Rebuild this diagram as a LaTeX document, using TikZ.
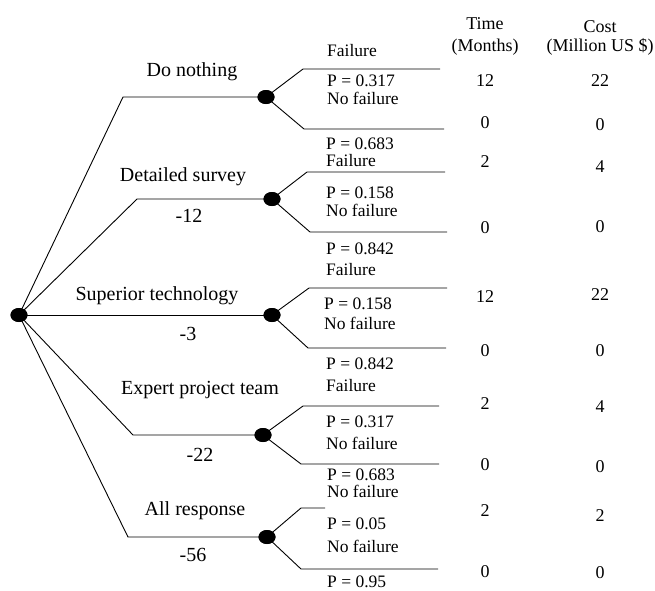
\documentclass[tikz,border=0pt]{standalone}
\usepackage{fontspec}
\setmainfont{Liberation Serif}
\usetikzlibrary{shapes.geometric}
\begin{document}
\begin{tikzpicture}[x=1pt,y=-1pt,
  edge/.style={line width=0.9pt},
  dotnode/.style={ellipse,fill=black,inner sep=0pt,minimum width=17pt,minimum height=14pt},
  biglab/.style={inner sep=0pt,font=\fontsize{20}{22}\selectfont,text height=13pt,text depth=4pt},
  smalllab/.style={inner sep=0pt,anchor=west,font=\fontsize{17.5}{20}\selectfont,text height=10.5pt,text depth=2pt},
  numlab/.style={inner sep=0pt,font=\fontsize{18}{21}\selectfont,text height=12pt,text depth=4pt}]
\useasboundingbox (0,0) rectangle (655,590);

% decision and chance nodes
\node[dotnode] (r) at (19,315) {};
\node[dotnode] (c1) at (266,97) {};
\node[dotnode] (c2) at (272,199) {};
\node[dotnode] (c3) at (272,315) {};
\node[dotnode] (c4) at (263,435) {};
\node[dotnode] (c5) at (267,537) {};

% corner points
\coordinate (a1) at (123,97);
\coordinate (a2) at (137,199);
\coordinate (a4) at (133,435);
\coordinate (a5) at (128,537);

\coordinate (u1) at (303,69);  \coordinate (ue1) at (440,69);
\coordinate (l1) at (304,129); \coordinate (le1) at (444,129);
\coordinate (u2) at (307,172); \coordinate (ue2) at (445,172);
\coordinate (l2) at (310,232); \coordinate (le2) at (447,232);
\coordinate (u3) at (309,288); \coordinate (ue3) at (447,288);
\coordinate (l3) at (308,348); \coordinate (le3) at (446,348);
\coordinate (u4) at (303,406); \coordinate (ue4) at (439,406);
\coordinate (l4) at (301,464); \coordinate (le4) at (439,464);
\coordinate (u5) at (301,508); \coordinate (ue5) at (325,508);
\coordinate (l5) at (301,569); \coordinate (le5) at (438,569);

% decision branches
\draw[edge] (r.center) -- (a1) -- (c1.center);
\draw[edge] (r.center) -- (a2) -- (c2.center);
\draw[edge] (r.center) -- (c3.center);
\draw[edge] (r.center) -- (a4) -- (c4.center);
\draw[edge] (r.center) -- (a5) -- (c5.center);

% chance branches
\foreach \i in {1,...,5}{
  \draw[edge] (c\i.center) -- (u\i) -- (ue\i);
  \draw[edge] (c\i.center) -- (l\i) -- (le\i);
}

% redraw dots on top
\foreach \n in {r,c1,c2,c3,c4,c5}{
  \fill (\n.center) ellipse[x radius=8.5pt, y radius=7pt];
}

% decision labels
\node[biglab] (t1) at (192,72) {Do nothing};
\node[biglab] (t2) at (183,177) {Detailed survey};
\node[biglab] (v2) at (189,218) {-12};
\node[biglab] (t3) at (157,296) {Superior technology};
\node[biglab] (v3) at (188,336) {-3};
\node[biglab] (t4) at (200,390) {Expert project team};
\node[biglab] (v4) at (200,457) {-22};
\node[biglab] (t5) at (195,511) {All response};
\node[biglab] (v5) at (193,557) {-56};

% outcome labels
\node[smalllab] (o1) at (327,52) {Failure};
\node[smalllab] (p1) at (327,82) {P = 0.317};
\node[smalllab] (o2) at (327,100) {No failure};
\node[smalllab] (p2) at (326,145.5) {P = 0.683};
\node[smalllab] (o3) at (326,162) {Failure};
\node[smalllab] (p3) at (326,194) {P = 0.158};
\node[smalllab] (o4) at (326,212) {No failure};
\node[smalllab] (p4) at (326,250) {P = 0.842};
\node[smalllab] (o5) at (326,271) {Failure};
\node[smalllab] (p5) at (324,305) {P = 0.158};
\node[smalllab] (o6) at (324,325) {No failure};
\node[smalllab] (p6) at (326,365) {P = 0.842};
\node[smalllab] (o7) at (326,387) {Failure};
\node[smalllab] (p7) at (326,423) {P = 0.317};
\node[smalllab] (o8) at (326,445) {No failure};
\node[smalllab] (p8) at (327,476.5) {P = 0.683};
\node[smalllab] (o9) at (327,493.5) {No failure};
\node[smalllab] (p9) at (327,525) {P = 0.05};
\node[smalllab] (o10) at (327,548) {No failure};
\node[smalllab] (p10) at (327,583) {P = 0.95};

% headers
\node[numlab] (h1) at (485,25) {Time};
\node[numlab] (h2) at (485,47) {(Months)};
\node[numlab] (h3) at (600,28) {Cost};
\node[numlab] (h4) at (600,47) {(Million US \$)};

% time column
\node[numlab] at (485,82) {12};
\node[numlab] at (485,124) {0};
\node[numlab] at (485,163) {2};
\node[numlab] at (485,229) {0};
\node[numlab] at (485,298) {12};
\node[numlab] at (485,352) {0};
\node[numlab] at (485,405) {2};
\node[numlab] at (485,466) {0};
\node[numlab] at (485,512) {2};
\node[numlab] at (485,573) {0};

% cost column
\node[numlab] at (600,82) {22};
\node[numlab] at (600,126) {0};
\node[numlab] at (600,168) {4};
\node[numlab] at (600,228) {0};
\node[numlab] at (600,296) {22};
\node[numlab] at (600,352) {0};
\node[numlab] at (600,408) {4};
\node[numlab] at (600,468) {0};
\node[numlab] at (600,517) {2};
\node[numlab] at (600,574) {0};
\end{tikzpicture}
\end{document}
